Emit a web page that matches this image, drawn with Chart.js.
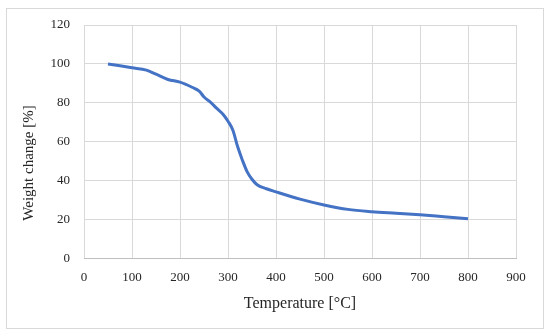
<!DOCTYPE html>
<html>
<head>
<meta charset="utf-8">
<script src="https://cdn.jsdelivr.net/npm/chart.js@4"></script>
<style>
  html, body { margin: 0; padding: 0; background: #fff; }
</style>
</head>
<body>
<canvas id="tga" width="550" height="336"></canvas>
<script>
// temperature (°C) and weight change (%)
var temps = [50, 75, 100, 130, 150, 175, 200, 225, 240, 250, 265, 275, 290, 300, 310, 320, 330, 340, 350, 360, 380, 400, 450, 500, 550, 600, 650, 700, 750, 800];
var weights = [100, 99, 98, 96.8, 94.7, 92, 90.6, 88, 86, 83, 80, 77.5, 74, 70.5, 66, 57.5, 50.5, 44.5, 40.7, 38, 35.8, 34.2, 30.5, 27.5, 25.2, 24, 23.2, 22.4, 21.4, 20.4];
var xTitle = 'Temperature [°C]';
var yTitle = 'Weight change [%]';

var points = temps.map(function (t, i) { return { x: t, y: weights[i] }; });

var serif = "'Liberation Serif', 'Times New Roman', serif";

// light frame around the whole chart plus the rotated y title
var framePlugin = {
    id: 'frame',
    beforeDraw: function (chart) {
        var c = chart.ctx;
        c.save();
        c.fillStyle = '#fff';
        c.fillRect(0, 0, chart.width, chart.height);
        c.strokeStyle = '#d9d9d9';
        c.lineWidth = 1;
        c.strokeRect(6.5, 8.5, 537, 320);
        c.restore();
    },
    afterDraw: function (chart) {
        var c = chart.ctx;
        c.save();
        c.translate(29, 163);
        c.rotate(-Math.PI / 2);
        c.font = '15px ' + serif;
        c.fillStyle = '#262626';
        c.textAlign = 'center';
        c.textBaseline = 'middle';
        c.fillText(yTitle, 0, 0);
        c.restore();
    }
};

var ctx = document.getElementById('tga').getContext('2d');
var chart = new Chart(ctx, {
    type: 'line',
    data: {
        datasets: [{
            label: yTitle,
            data: points,
            borderColor: '#4472c4',
            backgroundColor: '#4472c4',
            borderWidth: 3,
            pointRadius: 0,
            fill: false,
            cubicInterpolationMode: 'monotone'
        }]
    },
    options: {
        responsive: false,
        animation: false,
        layout: {
            padding: { left: 0, top: 25, right: 34, bottom: 24 }
        },
        plugins: {
            legend: { display: false },
            tooltip: { enabled: false }
        },
        scales: {
            x: {
                type: 'linear',
                min: 0,
                max: 900,
                ticks: {
                    stepSize: 100,
                    padding: 11,
                    color: '#262626',
                    font: { family: serif, size: 13 }
                },
                grid: {
                    color: '#d9d9d9',
                    tickLength: 0
                },
                border: { color: '#bfbfbf' },
                title: {
                    display: true,
                    text: xTitle,
                    color: '#262626',
                    font: { family: serif, size: 16, lineHeight: 1 },
                    padding: { top: 0, bottom: 0 }
                }
            },
            y: {
                min: 0,
                max: 120,
                ticks: {
                    stepSize: 20,
                    padding: 14,
                    color: '#262626',
                    font: { family: serif, size: 13 }
                },
                grid: {
                    color: '#d9d9d9',
                    tickLength: 0
                },
                border: { display: false },
                afterFit: function (scale) { scale.width = 84; }
            }
        }
    },
    plugins: [framePlugin]
});
</script>
</body>
</html>
